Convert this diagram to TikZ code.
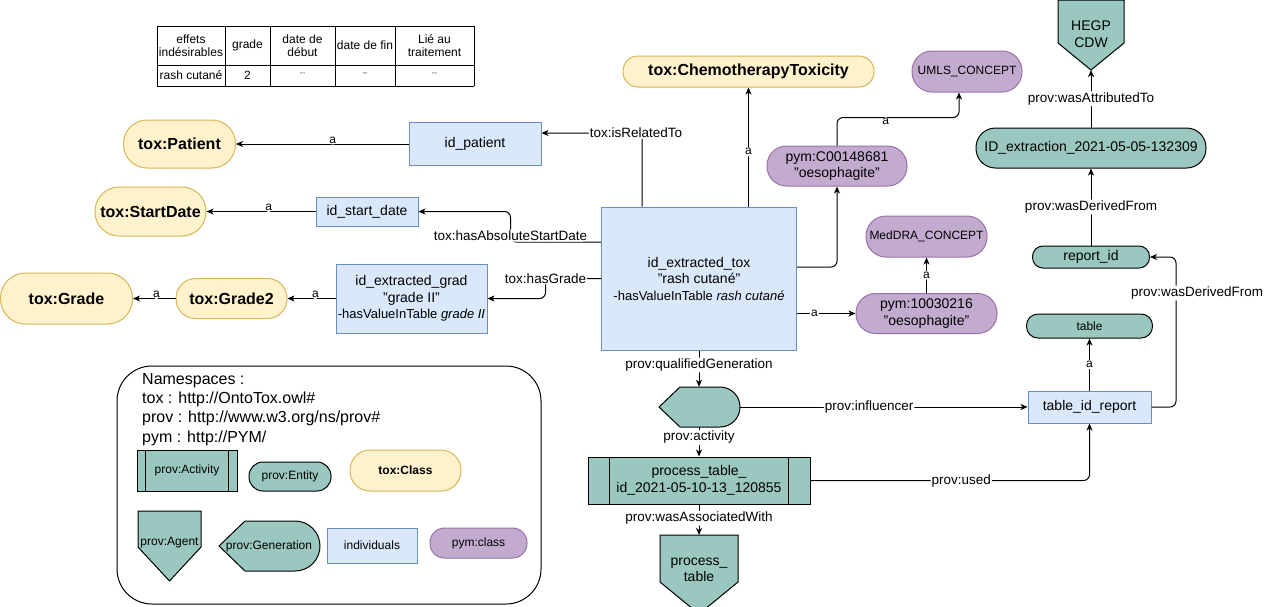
\documentclass[tikz,border=0pt]{standalone}
\usepackage{fontspec}
\setmainfont{Liberation Sans}
\usetikzlibrary{arrows.meta}

\definecolor{clsfill}{HTML}{FFF2CC}
\definecolor{clsline}{HTML}{D6B656}
\definecolor{indfill}{HTML}{DAE8FC}
\definecolor{indline}{HTML}{6C8EBF}
\definecolor{pymfill}{HTML}{C3ABD0}
\definecolor{pymline}{HTML}{9673A6}
\definecolor{provfill}{HTML}{9AC7BF}

\newcommand{\blankmark}{\textcolor{black!60}{\fontsize{7}{8}\selectfont ""}}
\newcommand{\smallline}[1]{{\fontsize{13}{16}\selectfont #1}}

\tikzset{
  cls/.style={draw=clsline, fill=clsfill, line width=1pt, inner sep=0pt, font=\bfseries\fontsize{16}{19}\selectfont},
  ind/.style={draw=indline, fill=indfill, line width=1pt, inner sep=0pt, align=center},
  pym/.style={draw=pymline, fill=pymfill, line width=1pt, inner sep=0pt, align=center},
  ent/.style={draw=black, fill=provfill, line width=1pt, inner sep=0pt, align=center},
  provshape/.style={draw=black, fill=provfill, line width=1pt},
  link/.style={line width=1pt, rounded corners=6pt, -{Stealth[length=7pt,width=6pt,inset=2pt]}},
  lbl/.style={fill=white, inner sep=1pt, font=\fontsize{13.5}{16}\selectfont},
  alab/.style={fill=white, inner sep=1pt, font=\fontsize{12}{14}\selectfont},
  cell/.style={inner sep=0pt, align=center, font=\fontsize{12}{13.5}\selectfont},
}

\begin{document}
\begin{tikzpicture}[x=1pt, y=-1pt, font=\fontsize{14}{16.5}\selectfont]
	\useasboundingbox (0,0) rectangle (1265,606);
	
	%%%%% TABLE %%%%%
	\foreach \x in {157,225,270,335,395,474} \draw[line width=1pt] (\x,26) -- (\x,86);
	\foreach \y in {26,65,86} \draw[line width=1pt] (157,\y) -- (474,\y);
	\foreach \cx/\txt [count=\i] in {191/{effets\\indésirables}, 247.5/grade, 302.5/{date de\\début}, 365/date de fin, 434.5/{Lié au\\traitement}}
		\node[cell] (head\i) at (\cx,45.5) {\txt};
	\foreach \cx/\txt [count=\i] in {191/rash cutané, 247.5/2, 302.5/\blankmark, 365/\blankmark, 434.5/\blankmark}
		\node[cell] (row\i) at (\cx,75.5) {\txt};
	
	%%%%% CLASSES %%%%%
	\node[cls, minimum width=112pt, minimum height=48pt, rounded corners=23.5pt] (patient) at (179.5,144) {tox:Patient};
	\node[cls, minimum width=111pt, minimum height=49pt, rounded corners=24pt] (startdate) at (150.5,211.5) {tox:StartDate};
	\node[cls, minimum width=132pt, minimum height=51pt, rounded corners=25pt] (grade) at (66.5,298.5) {tox:Grade};
	\node[cls, minimum width=111pt, minimum height=40pt, rounded corners=19.5pt] (grade2) at (231.5,298.5) {tox:Grade2};
	\node[cls, minimum width=251pt, minimum height=31pt, rounded corners=15pt] (chemo) at (748.5,71.5) {tox:ChemotherapyToxicity};
	
	%%%%% INDIVIDUALS %%%%%
	\node[ind, minimum width=132pt, minimum height=43pt] (idpatient) at (475,144) {id\_patient};
	\node[ind, minimum width=102pt, minimum height=29pt] (idstart) at (367,211.5) {id\_start\_date};
	\node[ind, minimum width=151pt, minimum height=69pt] (idgrad) at (411.5,298.5) {id\_extracted\_grad\\"grade II"\\\smallline{-hasValueInTable \textit{grade II}}};
	\node[ind, minimum width=195pt, minimum height=143pt] (tox) at (699,278.5) {id\_extracted\_tox\\"rash cutané"\\\smallline{-hasValueInTable \textit{rash cutané}}};
	\node[ind, minimum width=123pt, minimum height=32pt] (tableid) at (1089.5,407) {table\_id\_report};
	
	%%%%% PYM %%%%%
	\node[pym, minimum width=110pt, minimum height=41pt, rounded corners=20pt, font=\fontsize{12}{14}\selectfont] (umls) at (967,71.5) {UMLS\_CONCEPT};
	\node[pym, minimum width=140pt, minimum height=40pt, rounded corners=19.5pt] (pymc) at (837,166) {pym:C00148681\\"oesophagite"};
	\node[pym, minimum width=121pt, minimum height=41pt, rounded corners=20pt, font=\fontsize{12}{14}\selectfont] (meddra) at (926.5,236.5) {MedDRA\_CONCEPT};
	\node[pym, minimum width=141pt, minimum height=40pt, rounded corners=19.5pt] (pym10) at (926.5,313.5) {pym:10030216\\"oesophagite"};
	
	%%%%% PROV %%%%%
	\draw[provshape] (1058,0) -- (1124,0) -- (1124,43) -- (1091,70) -- (1058,43) -- cycle;
	\node[align=center] (hegp) at (1091,34) {HEGP\\CDW};
	\coordinate (hegptip) at (1091,70);
	\node[ent, minimum width=230pt, minimum height=40pt, rounded corners=19.5pt] (idext) at (1091,148) {ID\_extraction\_2021-05-05-132309};
	\node[ent, minimum width=117pt, minimum height=22pt, rounded corners=10.5pt] (reportid) at (1091,257) {report\_id};
	\node[ent, minimum width=126pt, minimum height=24pt, rounded corners=11.5pt, font=\fontsize{12}{14}\selectfont] (table) at (1089.5,326) {table};
	
	\draw[provshape] (659,407) -- (680,387) -- (720,387) arc[start angle=90, end angle=-90, radius=20pt] -- (680,427) -- cycle;
	\node[minimum width=81pt, minimum height=40pt] (gen) at (699,407) {};
	
	\node[ent, minimum width=222pt, minimum height=47pt] (act) at (699,480.5) {process\_table\_\\id\_2021-05-10-13\_120855};
	\draw[line width=1pt] ([xshift=22pt]act.north west) -- ([xshift=22pt]act.south west);
	\draw[line width=1pt] ([xshift=-22pt]act.north east) -- ([xshift=-22pt]act.south east);
	
	\draw[provshape] (660,535) -- (738,535) -- (738,582) -- (699,614) -- (660,582) -- cycle;
	\node[align=center] (agent) at (699,570) {process\_\\table};
	\coordinate (agenttop) at (699,535);
	
	%%%%% EDGES %%%%%
	\draw[link] (idpatient) -- node[alab, pos=0.44, yshift=4pt] {a} (patient);
	\draw[link] (idstart) -- node[alab, pos=0.43, yshift=4pt] {a} (startdate);
	\draw[link] (idgrad) -- node[alab, pos=0.42, yshift=4pt] {a} (grade2);
	\draw[link] (grade2) -- node[alab, pos=0.45, yshift=4pt] {a} (grade);
	
	\draw[link] ([xshift=-57pt]tox.north) |- node[lbl, xshift=-6pt] {tox:isRelatedTo} ([yshift=11pt]idpatient.east);
	\draw[link] ([xshift=49.5pt]tox.north) -- node[alab, pos=0.46] {a} (chemo);
	\draw[link] ([yshift=36.5pt]tox.west) -| node[lbl, anchor=south] {tox:hasAbsoluteStartDate} ([xshift=92pt]idstart.east) -- (idstart.east);
	\draw[link] (tox.west) -| node[lbl] {tox:hasGrade} ([xshift=58pt]idgrad.east) -- (idgrad.east);
	
	\draw[link] ([yshift=11.5pt]tox.east) -| (pymc);
	\draw[link] (pymc.north) -- ++(0,-28) -| node[alab, pos=0.2, yshift=-4pt] {a} ([xshift=-8pt]umls.south);
	\draw[link] ([yshift=-35pt]tox.east) -- node[alab, pos=0.3] {a} (pym10);
	\draw[link] (pym10) -- node[alab] {a} (meddra);
	
	\draw[link] (tox) -- node[lbl, pos=0.4] {prov:qualifiedGeneration} (gen);
	\draw[link] (gen) -- node[lbl, pos=0.35] {prov:activity} (act);
	\draw[link] (act) -- node[lbl, pos=0.45] {prov:wasAssociatedWith} (agenttop);
	\draw[link] (gen) -- node[lbl, pos=0.45] {prov:influencer} (tableid);
	\draw[link] (act) -| node[lbl, pos=0.27] {prov:used} (tableid);
	
	\draw[link] (tableid) -- node[alab] {a} (table);
	\draw[link] (tableid.east) -| node[lbl, pos=0.88, xshift=21pt] {prov:wasDerivedFrom} ([xshift=26pt]reportid.east) -- (reportid.east);
	\draw[link] (reportid) -- node[lbl] {prov:wasDerivedFrom} (idext);
	\draw[link] (idext) -- node[lbl] {prov:wasAttributedTo} (hegptip);
	
	%%%%% LEGEND %%%%%
	\draw[line width=1pt, rounded corners=35pt] (117,366) rectangle (541,604);
	\foreach \t [count=\i] in {Namespaces :, tox : http://OntoTox.owl\#, prov : http://www.w3.org/ns/prov\#, pym : http://PYM/}
		\node[anchor=base west, inner sep=0pt, font=\fontsize{16}{19}\selectfont] (ns\i) at (142,365+19.3*\i) {\t};
	
	\node[ent, minimum width=100pt, minimum height=41pt, font=\fontsize{12}{14}\selectfont] (lact) at (187,470.5) {prov:Activity};
	\draw[line width=1pt] ([xshift=9pt]lact.north west) -- ([xshift=9pt]lact.south west);
	\draw[line width=1pt] ([xshift=-9pt]lact.north east) -- ([xshift=-9pt]lact.south east);
	\node[ent, minimum width=82pt, minimum height=29pt, rounded corners=14pt, font=\fontsize{12}{14}\selectfont] (lent) at (290,476.5) {prov:Entity};
	\node[cls, minimum width=111pt, minimum height=41pt, rounded corners=20pt, font=\bfseries\fontsize{12}{14}\selectfont] (lcls) at (405.5,470.5) {tox:Class};
	
	\draw[provshape] (138,511) -- (201,511) -- (201,547) -- (169.5,581) -- (138,547) -- cycle;
	\node[font=\fontsize{12}{14}\selectfont] (lagent) at (169.5,543) {prov:Agent};
	\draw[provshape] (219,546) -- (245,521) -- (295,521) arc[start angle=90, end angle=-90, radius=25pt] -- (245,571) -- cycle;
	\node[font=\fontsize{12}{14}\selectfont] (lgen) at (269,546) {prov:Generation};
	\node[ind, minimum width=90pt, minimum height=35pt, font=\fontsize{12}{14}\selectfont] (lind) at (372,545.5) {individuals};
	\node[pym, minimum width=97pt, minimum height=30pt, rounded corners=14.5pt, font=\fontsize{12}{14}\selectfont] (lpym) at (478.5,543) {pym:class};
	
\end{tikzpicture}
\end{document}
